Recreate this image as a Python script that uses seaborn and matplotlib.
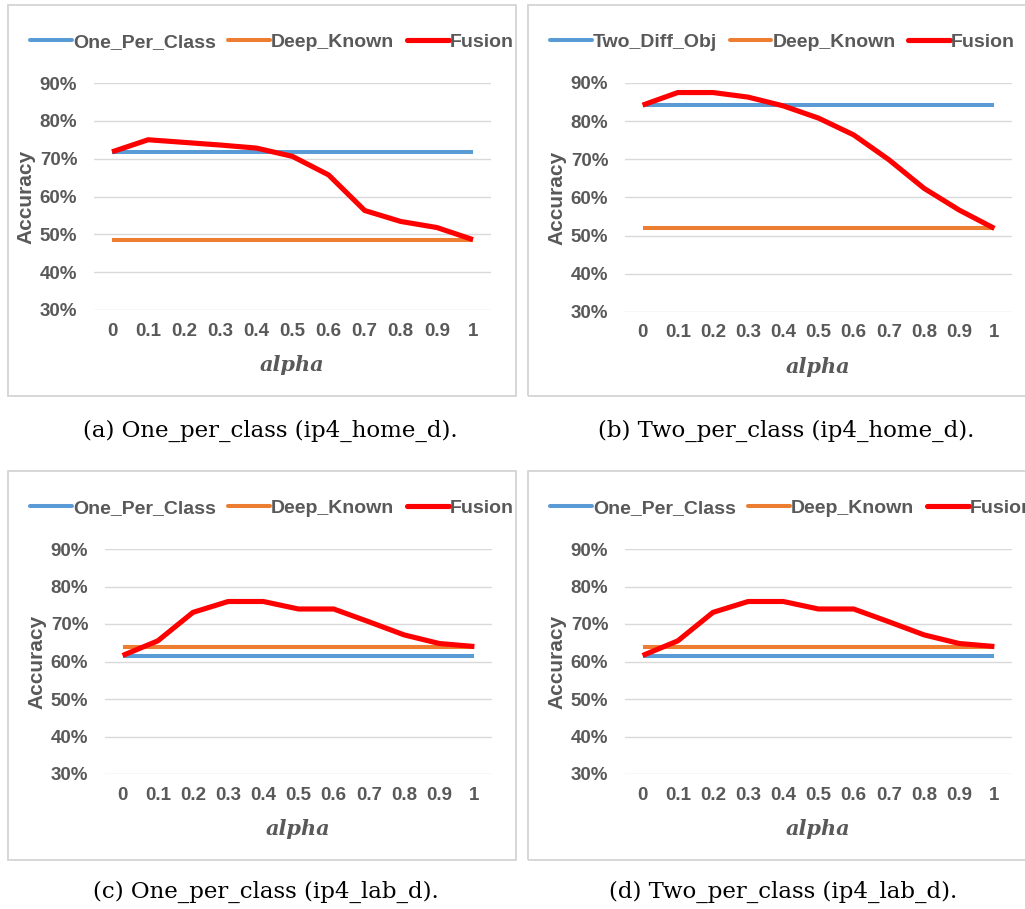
import numpy as np
import pandas as pd
import matplotlib
matplotlib.use("Agg")
import matplotlib.pyplot as plt
from matplotlib.patches import Rectangle
from matplotlib.lines import Line2D
import seaborn as sns

# ---------------- data ----------------
alpha_vals = [0.0, 0.1, 0.2, 0.3, 0.4, 0.5, 0.6, 0.7, 0.8, 0.9, 1.0]
alpha_labels = ["0", "0.1", "0.2", "0.3", "0.4", "0.5", "0.6", "0.7", "0.8", "0.9", "1"]
y_ticks = [30, 40, 50, 60, 70, 80, 90]
y_tick_labels = ["30%", "40%", "50%", "60%", "70%", "80%", "90%"]

# (a) One_per_class (ip4_home_d)
a_one_per_class = [71.8, 71.8, 71.8, 71.8, 71.8, 71.8, 71.8, 71.8, 71.8, 71.8, 71.8]
a_deep_known = [48.6, 48.6, 48.6, 48.6, 48.6, 48.6, 48.6, 48.6, 48.6, 48.6, 48.6]
a_fusion = [71.8, 75.0, 74.3, 73.6, 72.8, 70.6, 65.7, 56.3, 53.4, 51.8, 48.6]

# (b) Two_per_class (ip4_home_d)
b_two_diff_obj = [84.2, 84.2, 84.2, 84.2, 84.2, 84.2, 84.2, 84.2, 84.2, 84.2, 84.2]
b_deep_known = [51.9, 51.9, 51.9, 51.9, 51.9, 51.9, 51.9, 51.9, 51.9, 51.9, 51.9]
b_fusion = [84.2, 87.5, 87.5, 86.3, 84.0, 80.8, 76.4, 69.9, 62.4, 56.7, 51.9]

# (c) One_per_class (ip4_lab_d)
c_one_per_class = [61.6, 61.6, 61.6, 61.6, 61.6, 61.6, 61.6, 61.6, 61.6, 61.6, 61.6]
c_deep_known = [64.0, 64.0, 64.0, 64.0, 64.0, 64.0, 64.0, 64.0, 64.0, 64.0, 64.0]
c_fusion = [61.6, 65.5, 73.1, 76.0, 76.0, 74.0, 74.0, 70.6, 67.1, 64.8, 64.0]

# (d) Two_per_class (ip4_lab_d)
d_one_per_class = [61.6, 61.6, 61.6, 61.6, 61.6, 61.6, 61.6, 61.6, 61.6, 61.6, 61.6]
d_deep_known = [64.0, 64.0, 64.0, 64.0, 64.0, 64.0, 64.0, 64.0, 64.0, 64.0, 64.0]
d_fusion = [61.6, 65.5, 73.1, 76.0, 76.0, 74.0, 74.0, 70.6, 67.1, 64.8, 64.0]

captions = [
    "(a) One_per_class (ip4_home_d).",
    "(b) Two_per_class (ip4_home_d).",
    "(c) One_per_class (ip4_lab_d).",
    "(d) Two_per_class (ip4_lab_d).",
]
series_names = [
    ["One_Per_Class", "Deep_Known", "Fusion"],
    ["Two_Diff_Obj", "Deep_Known", "Fusion"],
    ["One_Per_Class", "Deep_Known", "Fusion"],
    ["One_Per_Class", "Deep_Known", "Fusion"],
]
series_values = [
    [a_one_per_class, a_deep_known, a_fusion],
    [b_two_diff_obj, b_deep_known, b_fusion],
    [c_one_per_class, c_deep_known, c_fusion],
    [d_one_per_class, d_deep_known, d_fusion],
]

# ---------------- style ----------------
sns.set_style("white")
plt.rcParams["font.family"] = ["Liberation Sans", "DejaVu Sans"]

colors = ["#5B9BD5", "#ED7D31", "#FF0000"]
widths = [2.9, 2.9, 3.7]
text_gray = "#595959"

W, H = 1025, 909
fig = plt.figure(figsize=(W / 100, H / 100), dpi=100)
fig.patch.set_facecolor("white")

# layout in pixels (x0, y_top, x1, y_bottom)
ax_px = [(94, 83, 491, 310), (625, 83, 1012, 312), (105, 549, 492, 774), (625, 549, 1012, 774)]
box_px = [(8, 5, 516, 396), (528, 5, 1030, 396), (8, 471, 516, 860), (528, 471, 1030, 860)]
legend_px = [(30, 42), (550, 42), (30, 508), (550, 508)]
caption_px = [(270, 431), (786, 431), (266, 892), (783, 892)]


def fx(x):
    return x / W


def fy(y):
    return 1 - y / H


for i in range(4):
    # panel frame
    bx0, by0, bx1, by1 = box_px[i]
    fig.add_artist(Rectangle((fx(bx0), fy(by1)), (bx1 - bx0) / W, (by1 - by0) / H,
                             transform=fig.transFigure, fill=False,
                             edgecolor="#D4D4D4", linewidth=1.3))

    x0, yt, x1, yb = ax_px[i]
    ax = fig.add_axes([fx(x0), fy(yb), (x1 - x0) / W, (yb - yt) / H])
    ax.set_facecolor("none")

    frames = []
    for name, vals in zip(series_names[i], series_values[i]):
        frames.append(pd.DataFrame({"alpha": alpha_vals, "acc": vals, "series": name}))
    df = pd.concat(frames, ignore_index=True)

    for k, name in enumerate(series_names[i]):
        sub = df[df["series"] == name]
        sns.lineplot(data=sub, x="alpha", y="acc", ax=ax, color=colors[k],
                     linewidth=widths[k], legend=False, zorder=3 + k,
                     solid_joinstyle="round", solid_capstyle="butt")

    ax.set_xlim(-0.05, 1.05)
    ax.set_ylim(30, 90)
    ax.set_xticks(alpha_vals)
    ax.set_xticklabels(alpha_labels)
    ax.set_yticks(y_ticks)
    ax.set_yticklabels(y_tick_labels)
    ax.yaxis.grid(True, color="#D9D9D9", linewidth=1.0, zorder=0)
    ax.xaxis.grid(False)
    for s in ax.spines.values():
        s.set_visible(False)
    ax.tick_params(axis="both", length=0, labelsize=13.5, labelcolor=text_gray)
    ax.tick_params(axis="y", pad=12)
    ax.tick_params(axis="x", pad=9)
    for lab in ax.get_xticklabels() + ax.get_yticklabels():
        lab.set_fontweight("bold")

    wpx = x1 - x0
    hpx = yb - yt
    ax.set_ylabel("Accuracy", fontsize=15, fontweight="bold", color=text_gray, va="center")
    ax.yaxis.set_label_coords(-68 / wpx, 0.5)
    ax.set_xlabel("alpha", fontsize=15, fontweight="bold", fontstyle="italic",
                  family="DejaVu Serif", color=text_gray, va="center")
    ax.xaxis.set_label_coords(0.5, -55 / hpx)

    handles = [Line2D([0], [0], color=colors[k], linewidth=widths[k]) for k in range(3)]
    lx, ly = legend_px[i]
    fig.legend(handles, series_names[i], loc="center left",
               bbox_to_anchor=(fx(lx), fy(ly)), bbox_transform=fig.transFigure,
               ncol=3, frameon=False, borderpad=0, borderaxespad=0,
               handlelength=2.15, handletextpad=0.05, columnspacing=0.65,
               prop={"family": "Liberation Sans", "weight": "bold", "size": 14},
               labelcolor=text_gray)

    cx, cy = caption_px[i]
    fig.text(fx(cx), fy(cy), captions[i], ha="center", va="center",
             fontsize=16.5, family=["DejaVu Serif"], color="black")

fig.savefig("out.png", dpi=100, facecolor="white")
